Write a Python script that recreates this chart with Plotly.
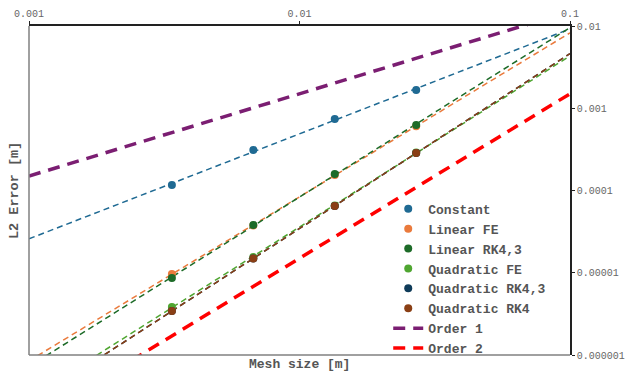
import numpy as np
import plotly.graph_objects as go

# ---- data ----
mesh_size = [0.003375, 0.00675, 0.0135, 0.027]
err_constant = [1.17e-4, 3.10e-4, 7.40e-4, 1.67e-3]
err_linear_fe = [9.66e-6, 3.76e-5, 1.54e-4, 6.05e-4]
err_linear_rk43 = [8.63e-6, 3.81e-5, 1.59e-4, 6.25e-4]
err_quad_fe = [3.84e-6, 1.556e-5, 6.58e-5, 2.90e-4]
err_quad_rk43 = [3.43e-6, 1.49e-5, 6.49e-5, 2.86e-4]
err_quad_rk4 = [3.43e-6, 1.49e-5, 6.49e-5, 2.86e-4]

ref_x = [0.001, 0.1]
order1_y = [1.5e-4, 1.5e-2]
order2_y = [1.5e-7, 1.5e-3]

x_ticks = [0.001, 0.01, 0.1]
x_ticktext = ["0.001", "0.01", "0.1"]
y_ticks = [1e-6, 1e-5, 1e-4, 1e-3, 1e-2]
y_ticktext = ["0.000001", "0.00001", "0.0001", "0.001", "0.01"]

series = [
    ("Constant", err_constant, "#1f6a93"),
    ("Linear FE", err_linear_fe, "#ea7a3c"),
    ("Linear RK4,3", err_linear_rk43, "#1d6b28"),
    ("Quadratic FE", err_quad_fe, "#4fa631"),
    ("Quadratic RK4,3", err_quad_rk43, "#0f3b59"),
    ("Quadratic RK4", err_quad_rk4, "#8a3f15"),
]

FONT = "Courier New, Liberation Mono, monospace"

fig = go.Figure()

# fitted trend lines (log-log least squares)
lx = np.log10(mesh_size)
for name, vals, col in series:
    p = np.polyfit(lx, np.log10(vals), 1)
    xs = np.array(ref_x)
    ys = 10 ** np.polyval(p, np.log10(xs))
    fig.add_trace(go.Scatter(x=xs, y=ys, mode="lines", showlegend=False,
                             line=dict(color=col, width=1.5, dash="6px,4px"),
                             hoverinfo="skip"))

for name, vals, col in series:
    fig.add_trace(go.Scatter(x=mesh_size, y=vals, mode="markers", name=name,
                             marker=dict(color=col, size=8)))

fig.add_trace(go.Scatter(x=ref_x, y=order1_y, mode="lines", name="Order 1",
                         line=dict(color="#7b1e72", width=3.5, dash="12px,8px")))
fig.add_trace(go.Scatter(x=ref_x, y=order2_y, mode="lines", name="Order 2",
                         line=dict(color="#ff0000", width=3.5, dash="12px,8px")))

fig.update_layout(
    width=636, height=373,
    margin=dict(l=29, r=66, t=26, b=18, autoexpand=False),
    paper_bgcolor="white", plot_bgcolor="white",
    font=dict(family=FONT, color="#555555"),
    showlegend=True,
    legend=dict(x=0.664, y=0.49, xanchor="left", yanchor="top",
                bgcolor="rgba(0,0,0,0)",
                font=dict(family=FONT, size=13, color="#555555", weight="bold"),
                itemwidth=30, tracegroupgap=0),
    xaxis=dict(type="log", range=[-3, -1], side="top", automargin=False,
               tickvals=x_ticks, ticktext=x_ticktext,
               tickfont=dict(family=FONT, size=10, color="#666666"),
               showgrid=False, zeroline=False,
               showline=True, linecolor="#222222", linewidth=1.5,
               ticks="outside", ticklen=3, tickcolor="#222222"),
    yaxis=dict(type="log", range=[-6, -2], side="right", automargin=False,
               tickvals=y_ticks, ticktext=y_ticktext,
               tickfont=dict(family=FONT, size=10, color="#666666"),
               showgrid=False, zeroline=False,
               showline=True, linecolor="#222222", linewidth=1.5,
               ticks="outside", ticklen=3, tickcolor="#222222"),
    shapes=[
        dict(type="line", xref="paper", yref="paper", x0=0, x1=1, y0=0, y1=0,
             line=dict(color="#808080", width=1.5)),
        dict(type="line", xref="paper", yref="paper", x0=0, x1=0, y0=0, y1=1,
             line=dict(color="#808080", width=1.5)),
    ],
    annotations=[
        dict(text="<b>Mesh size [m]</b>", xref="paper", yref="paper", x=0.5, y=0,
             xanchor="center", yanchor="top", yshift=0, showarrow=False,
             font=dict(family=FONT, size=13, color="#555555")),
        dict(text="<b>L2 Error [m]</b>", xref="paper", yref="paper", x=0, y=0.5,
             xanchor="right", yanchor="middle", xshift=-5, textangle=-90,
             showarrow=False, font=dict(family=FONT, size=13.5, color="#555555")),
    ],
)

fig.write_html("out.html", config={"displayModeBar": False},
               post_script="document.body.style.margin='0';document.body.style.overflow='hidden';")
